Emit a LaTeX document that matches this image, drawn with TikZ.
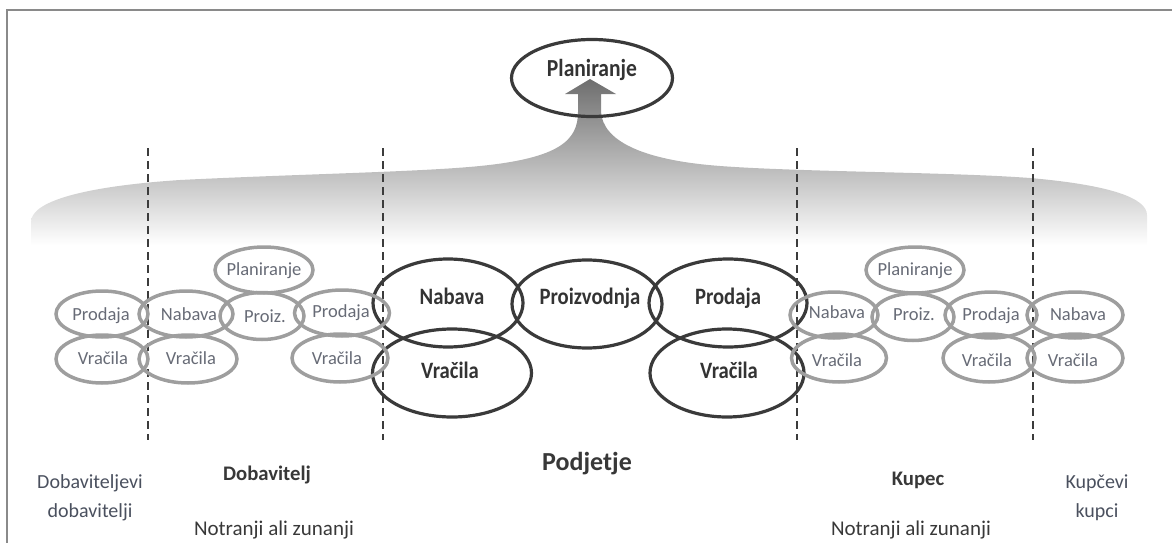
\documentclass[tikz,border=0pt]{standalone}
\usepackage{fontspec}
\setmainfont{Carlito}
\newfontfamily\narrowfont[FakeStretch=0.88]{Carlito}
\usetikzlibrary{shapes.geometric}

\definecolor{frameline}{HTML}{8A8A8A}
\definecolor{darkline}{HTML}{3A3A3A}
\definecolor{darkink}{HTML}{333333}
\definecolor{grayline}{HTML}{9E9E9E}
\definecolor{grayink}{HTML}{676B76}
\definecolor{labelink}{HTML}{383838}
\definecolor{sideink}{HTML}{4A505E}
\definecolor{cutline}{HTML}{3C3C3C}
\definecolor{fadetop}{HTML}{6E6E6E}

\tikzset{
  darkell/.style={ellipse, draw=darkline, line width=3.2pt, inner sep=0pt},
  grayell/.style={ellipse, draw=grayline, line width=3.5pt, inner sep=0pt},
  darktxt/.style={anchor=base, inner sep=0pt, text=darkink,
    font=\narrowfont\fontsize{23.5}{23.5}\selectfont\bfseries},
  graytxt/.style={anchor=base, inner sep=0pt, text=grayink,
    font=\fontsize{18.5}{18.5}\selectfont},
  boldlbl/.style={anchor=base, inner sep=0pt, text=labelink,
    font=\fontsize{20.7}{20.7}\selectfont\bfseries},
  plainlbl/.style={anchor=base, inner sep=0pt, text=labelink,
    font=\fontsize{21}{21}\selectfont},
  sidelbl/.style={anchor=base, inner sep=0pt, text=sideink,
    font=\fontsize{20}{20}\selectfont},
  cut/.style={draw=cutline, line width=2.3pt, dash pattern=on 8pt off 5pt},
}

\begin{document}
\begin{tikzpicture}[x=1pt, y=-1pt]
  \useasboundingbox (0,0) rectangle (1172,543);

  % outer frame (only left and top edges are visible)
  \draw[frameline, line width=2pt] (7,543) -- (7,10) -- (1172,10);

  % shaded planning cloud rising into an arrow
  \shade[top color=fadetop, bottom color=white]
    (31,245) -- (31,222)
    .. controls (31,200) and (90,186) .. (180,180)
    .. controls (300,174) and (420,172) .. (480,166)
    .. controls (560,158) and (578,140) .. (578,112)
    -- (578,94) -- (565,94) -- (590,79) -- (616,94) -- (601,94) -- (601,112)
    .. controls (603,140) and (640,160) .. (720,166)
    .. controls (800,172) and (950,172) .. (1030,178)
    .. controls (1110,185) and (1147,198) .. (1147,215)
    -- (1147,245) -- cycle;

  % boundary lines between the chain members
  \foreach \n/\x in {a/148, b/383, c/797, d/1033} {
    \coordinate (cut\n top) at (\x,148);
    \coordinate (cut\n bot) at (\x,440);
    \draw[cut] (cut\n top) -- (cut\n bot);
  }

  % top planning ellipse
  \node[darkell, minimum width=161pt, minimum height=77pt] (plan) at (592,78) {};
  \node[darktxt, font=\narrowfont\fontsize{24.5}{24.5}\selectfont\bfseries]
    (plantxt) at (592,77) {Planiranje};

  % company: dark ellipses
  \node[darkell, minimum width=150pt, minimum height=88pt] (nab) at (448,303) {};
  \node[darkell, minimum width=150pt, minimum height=88pt] (pro) at (587,304) {};
  \node[darkell, minimum width=158pt, minimum height=88pt] (prd) at (728,303) {};
  \node[darkell, minimum width=159pt, minimum height=88pt] (vl)  at (452,373) {};
  \node[darkell, minimum width=154pt, minimum height=88pt] (vr)  at (727,373) {};
  \node[darktxt] (nabtxt) at (452,304) {Nabava};
  \node[darktxt] (protxt) at (590,304) {Proizvodnja};
  \node[darktxt] (prdtxt) at (728,304) {Prodaja};
  \node[darktxt] (vltxt)  at (450,378) {Vračila};
  \node[darktxt] (vrtxt)  at (729,378) {Vračila};

  % supplier side: gray ellipses
  \node[grayell, minimum width=92pt, minimum height=46pt] (g1) at (102,314) {};
  \node[grayell, minimum width=94pt, minimum height=46pt] (g2) at (186,314) {};
  \node[grayell, minimum width=84pt, minimum height=47pt] (g3) at (262,316) {};
  \node[grayell, minimum width=98pt, minimum height=46pt] (g4) at (264,270) {};
  \node[grayell, minimum width=95pt, minimum height=46pt] (g5) at (342,313) {};
  \node[grayell, minimum width=92pt, minimum height=48pt] (g6) at (102,359) {};
  \node[grayell, minimum width=98pt, minimum height=48pt] (g7) at (188,359) {};
  \node[grayell, minimum width=96pt, minimum height=48pt] (g8) at (340,358) {};
  \node[graytxt] (g1t) at (101,320) {Prodaja};
  \node[graytxt] (g2t) at (189,320) {Nabava};
  \node[graytxt] (g3t) at (265,322) {Proiz.};
  \node[graytxt] (g4t) at (264,275) {Planiranje};
  \node[graytxt] (g5t) at (341,317) {Prodaja};
  \node[graytxt] (g6t) at (103,364) {Vračila};
  \node[graytxt] (g7t) at (191,364) {Vračila};
  \node[graytxt] (g8t) at (337,364) {Vračila};

  % customer side: gray ellipses
  \node[grayell, minimum width=98pt, minimum height=46pt] (h1) at (915,270) {};
  \node[grayell, minimum width=88pt, minimum height=46pt] (h2) at (834,315) {};
  \node[grayell, minimum width=82pt, minimum height=47pt] (h3) at (913,317) {};
  \node[grayell, minimum width=92pt, minimum height=46pt] (h4) at (991,315) {};
  \node[grayell, minimum width=96pt, minimum height=46pt] (h5) at (1075,315) {};
  \node[grayell, minimum width=95pt, minimum height=48pt] (h6) at (839,358) {};
  \node[grayell, minimum width=92pt, minimum height=48pt] (h7) at (989,358) {};
  \node[grayell, minimum width=96pt, minimum height=48pt] (h8) at (1075,358) {};
  \node[graytxt] (h1t) at (915,275) {Planiranje};
  \node[graytxt] (h2t) at (837,318) {Nabava};
  \node[graytxt] (h3t) at (914,320) {Proiz.};
  \node[graytxt] (h4t) at (991,320) {Prodaja};
  \node[graytxt] (h5t) at (1078,320) {Nabava};
  \node[graytxt] (h6t) at (837,366) {Vračila};
  \node[graytxt] (h7t) at (987,366) {Vračila};
  \node[graytxt] (h8t) at (1073,366) {Vračila};

  % captions under the chain
  \node[sidelbl]  (l1a) at (90,488)  {Dobaviteljevi};
  \node[sidelbl]  (l1b) at (90,517)  {dobavitelji};
  \node[boldlbl]  (l2a) at (267,480) {Dobavitelj};
  \node[plainlbl] (l2b) at (274,535) {Notranji ali zunanji};
  \node[boldlbl, font=\fontsize{26}{26}\selectfont\bfseries] (l3) at (587,470) {Podjetje};
  \node[boldlbl]  (l4a) at (918,485) {Kupec};
  \node[plainlbl] (l4b) at (911,535) {Notranji ali zunanji};
  \node[sidelbl]  (l5a) at (1097,488) {Kupčevi};
  \node[sidelbl]  (l5b) at (1097,517) {kupci};
\end{tikzpicture}
\end{document}
